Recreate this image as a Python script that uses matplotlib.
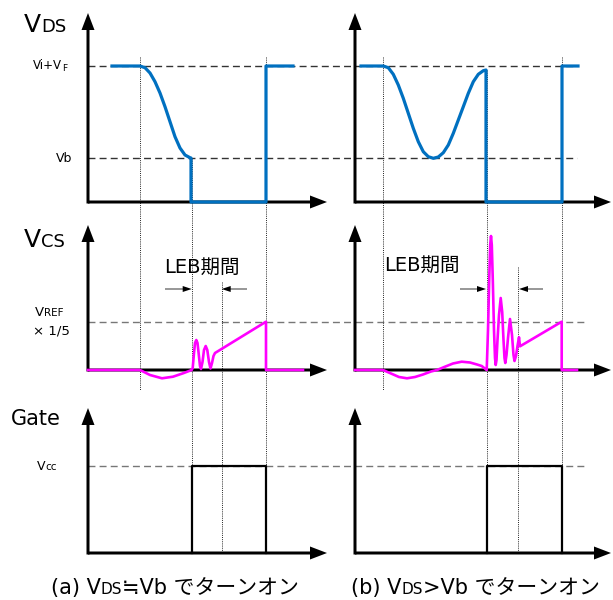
import matplotlib
matplotlib.use("Agg")
import matplotlib.pyplot as plt
from matplotlib.transforms import Affine2D

plt.rcParams['font.family'] = ['DejaVu Sans', 'Noto Sans CJK JP']

# levels, px above the row baseline
lv_vin = 136    # Vi+VF
lv_vb = 44      # Vb
lv_ref = 48.3   # VREF x 1/5
lv_vcc = 87     # Vcc

# (a) turn-on at VDS ~ Vb   (t = px from the y axis)
vds_a_t = [24, 52, 57, 62, 67, 72, 77, 82, 87, 92, 97, 102, 103, 103, 178, 178, 205]
vds_a_v = [136, 136, 134.3, 129, 120.3, 109, 95.3, 80.3, 65.3, 54, 47, 44.3, 44, 0, 0, 136, 136]
vcs_a_t = [0, 52, 62, 74, 85, 95, 103.7, 104.7, 106, 107, 108.3, 109.5, 110.5, 112, 113,
           114.5, 116, 117.7, 119.3, 121, 122.5, 124, 125.5, 127, 178, 178, 215]
vcs_a_v = [0, 0, -5, -8.3, -6.7, -3.3, 0, 2, 17, 27, 30, 27, 18, 4, 1,
           8, 20, 24, 20, 8, 1.5, 7, 14, 17, 48.3, 0, 0]
gate_a_t = [103.7, 103.7, 178, 178]
gate_a_v = [0, 87, 87, 0]

# (b) turn-on at VDS > Vb
vds_b_t = [6, 28.3, 33.3, 38.3, 43.3, 48.3, 53.3, 58.3, 63.3, 68.3, 73.3, 78.3, 83.3,
           88.3, 93.3, 98.3, 103.3, 108.3, 113.3, 118.3, 123.3, 128.3, 131, 131, 207, 207, 223]
vds_b_v = [136, 136, 134.3, 127.7, 117, 103.7, 88.7, 73.7, 60.3, 50.3, 45.3, 43.7, 45,
           49.3, 57, 68.7, 82, 95.3, 108.7, 120.3, 127.7, 131.3, 132, 0, 0, 136, 136]
vcs_b_t = [0, 28, 36, 44, 52, 60, 68, 76, 82, 90, 98, 106.7, 115, 122, 126.7, 131.7,
           133, 134.2, 135.2, 136, 136.8, 137.8, 139, 140, 140.7, 141.5, 142.5, 144,
           145.7, 147.2, 148.5, 149.5, 150.3, 151.5, 153, 155, 157, 158.5, 159.5,
           161, 162.5, 164, 165, 206.7, 206.7, 222]
vcs_b_v = [0, 0, -3.5, -7, -8.3, -7, -4.5, -1.5, 0, 3.3, 6.5, 8.3, 7.5, 5.5, 4, 0,
           40, 90, 125, 134, 125, 90, 40, 12, 5, 10, 30, 55,
           72, 58, 30, 12, 7, 15, 32, 51, 35, 15, 9,
           14, 24, 32.7, 23.7, 48.3, 0, 0]
gate_b_t = [132, 132, 207, 207]
gate_b_v = [0, 87, 87, 0]

# layout (figure px)
x0 = {'a': 88, 'b': 355}
x_tip = {'a': 327, 'b': 611}
base = [202, 370, 553]
y_tip = [13, 225, 408]
BLUE = '#0070C0'
MAG = '#FF00FF'

fig = plt.figure(figsize=(6.13, 6.0), dpi=100)
ax = fig.add_axes([0, 0, 1, 1])
ax.set_xlim(0, 613)
ax.set_ylim(600, 0)
ax.axis('off')
renderer = fig.canvas.get_renderer()


def panel_tr(p, row):
    return Affine2D().scale(1, -1).translate(x0[p], base[row]) + ax.transData


# horizontal dashed reference levels
for row, lv, xe, col in [(0, lv_vin, 577, '#333333'), (0, lv_vb, 577, '#333333'),
                         (1, lv_ref, 585, '#777777'), (2, lv_vcc, 585, '#777777')]:
    ax.plot([88, xe], [base[row] - lv] * 2, color=col, lw=1, ls=(0, (5, 3)), zorder=1)

# vertical dotted timing lines: (x, top, bottom)
vlines = [(140, 57, 390), (191.7, 158, 553), (221.7, 282, 553), (265.7, 57, 553),
          (383, 57, 390), (487, 70, 553), (518, 267, 553), (562, 57, 553)]
for x, yt, yb in vlines:
    ax.plot([x, x], [yt, yb], color='#222222', lw=0.7, ls=(0, (1, 1.2)), zorder=1)

# axes with arrow heads
for p in ['a', 'b']:
    for row in range(3):
        ax.arrow(x0[p], base[row], x_tip[p] - x0[p], 0, width=3, head_width=13,
                 head_length=17, length_includes_head=True, fc='k', ec='none', zorder=3)
        ax.arrow(x0[p], base[row] + 1.5, 0, y_tip[row] - base[row] - 1.5, width=3,
                 head_width=13, head_length=17, length_includes_head=True,
                 fc='k', ec='none', zorder=3)

# waveforms
ax.plot(vds_a_t, vds_a_v, color=BLUE, lw=2.3, transform=panel_tr('a', 0), zorder=4)
ax.plot(vds_b_t, vds_b_v, color=BLUE, lw=2.3, transform=panel_tr('b', 0), zorder=4)
ax.plot(vcs_a_t, vcs_a_v, color=MAG, lw=1.9, transform=panel_tr('a', 1), zorder=4)
ax.plot(vcs_b_t, vcs_b_v, color=MAG, lw=1.9, transform=panel_tr('b', 1), zorder=4)
ax.plot(gate_a_t, gate_a_v, color='k', lw=1.6, transform=panel_tr('a', 2), zorder=4)
ax.plot(gate_b_t, gate_b_v, color='k', lw=1.6, transform=panel_tr('b', 2), zorder=4)

# LEB arrows
for xs, xe in [(165, 191.7), (247, 221.7), (460, 486), (543, 519)]:
    ax.arrow(xs, 289, xe - xs, 0, width=0.8, head_width=6, head_length=9,
             length_includes_head=True, fc='k', ec='none', zorder=3)


def seq(x, y, parts):
    # consecutive text pieces on one baseline: (string, size, drop_px, kern_px)
    for s, size, dy, kern in parts:
        t = ax.text(x + kern, y + dy, s, fontsize=size, va='baseline', ha='left')
        x += kern + t.get_window_extent(renderer).width


seq(24, 32, [('V', 18, 0, 0), ('DS', 13, 0, 0)])
seq(24, 247, [('V', 18, 0, 0), ('CS', 13, 0, 0)])
ax.text(11, 425, 'Gate', fontsize=15, va='baseline')
seq(33, 69, [('Vi+V', 8.5, 0, 0), ('F', 6.5, 2, 0)])
ax.text(72, 162, 'Vb', fontsize=9, va='baseline', ha='right')
seq(35, 316, [('V', 9.5, 0, 0), ('REF', 7.5, 0, 0)])
ax.text(33, 334, '× 1/5', fontsize=9.5, va='baseline')
seq(37, 470, [('V', 9, 0, 0), ('cc', 7.5, 0, 0)])
ax.text(201.7, 267, 'LEB期間', fontsize=14, ha='center', va='center')
ax.text(421.7, 265, 'LEB期間', fontsize=14, ha='center', va='center')
seq(51, 594, [('(a) V', 15, 0, 0), ('DS', 11, 0, 0), ('≒Vb でターンオン', 15, 0, 0)])
seq(351, 594, [('(b) V', 15, 0, 0), ('DS', 11, 0, 0), ('>Vb でターンオン', 15, 0, 0)])

fig.savefig('out.png', dpi=100)
